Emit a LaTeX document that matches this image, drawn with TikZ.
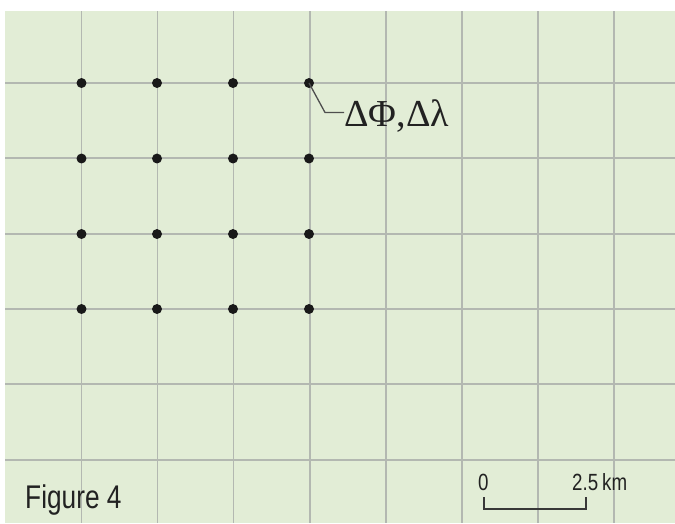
\documentclass[tikz,border=0pt]{standalone}
\usepackage{fontspec}
\newfontfamily\greekfont{Liberation Serif}
\newfontfamily\narrowfont[FakeStretch=0.8]{Liberation Sans}
\usepackage{tikz}
\usetikzlibrary{positioning,calc}

\definecolor{mapgreen}{HTML}{E2EDD6}
\definecolor{gridgray}{HTML}{B3B8B1}
\definecolor{inkgray}{HTML}{222222}

\begin{document}
\begin{tikzpicture}[
    x=0.03cm, y=-0.03cm,
    gridline/.style={draw=gridgray, line width=1.7pt},
    pt/.style={circle, fill=black!90, inner sep=0pt, minimum size=8.5pt},
    lbl/.style={inner sep=0pt, anchor=base west, text=inkgray},
    bar/.style={draw=inkgray!90, line width=1.6pt}
]
\useasboundingbox (0,0) rectangle (675,523);
\fill[white] (0,0) rectangle (675,523);
\fill[mapgreen] (5,11) rectangle (675,523);

% grid
\foreach \i in {0,...,7}
  \draw[gridline] (81.5+76*\i,11) -- (81.5+76*\i,523);
\foreach \j in {0,...,5}
  \draw[gridline] (5,83+75.3*\j) -- (675,83+75.3*\j);

% grid points
\foreach \c [count=\ci] in {81.5,157,233,309}
  \foreach \r [count=\ri] in {83,158.5,234,309}
    \node[pt] (p\ri\ci) at (\c,\r) {};

% label
\node[lbl, font=\greekfont\fontsize{32.5}{32.5}\selectfont] (dlabel) at (344,126.5) {ΔΦ,Δλ};
\coordinate (bend) at (325,112.5);
\draw[inkgray!80, line width=1.1pt] (p14.center) -- (bend) -- (bend -| dlabel.west);

% scale bar
\node[lbl, font=\narrowfont\fontsize{20}{20}\selectfont] (zero) at (478,490) {0};
\node[lbl, font=\narrowfont\fontsize{20}{20}\selectfont] (dist) at (572,490) {2.5\,km};
\coordinate (b0) at (484,497);
\coordinate (b1) at (586,497);
\draw[bar] (b0) -- ++(0,12) -| (b1);

\node[lbl, font=\narrowfont\fontsize{28}{28}\selectfont] (fig) at (25,508) {Figure 4};
\end{tikzpicture}
\end{document}
